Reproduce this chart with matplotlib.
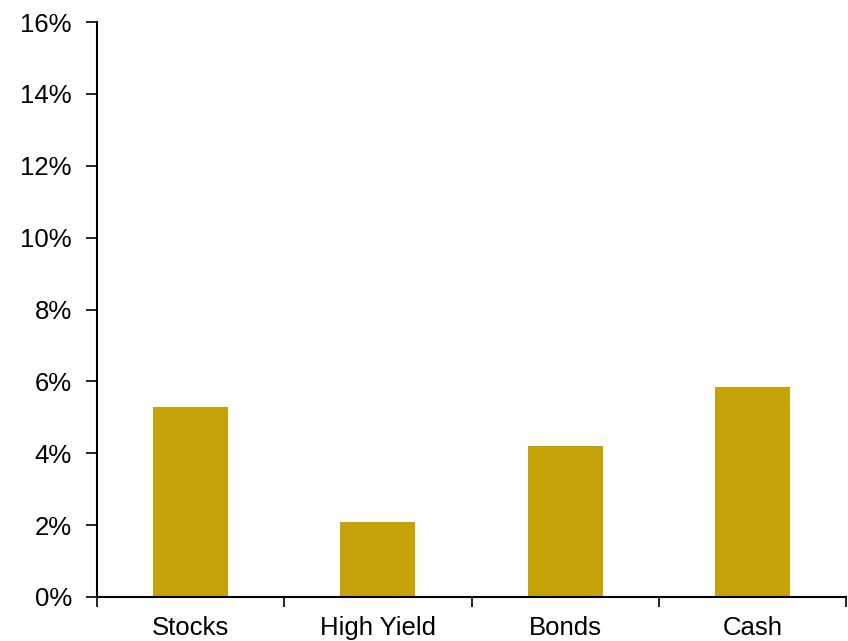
import numpy as np
import matplotlib
matplotlib.use("Agg")
import matplotlib.pyplot as plt
import matplotlib.ticker as mticker

# expected returns by asset class, in percent
categories = ["Stocks", "High Yield", "Bonds", "Cash"]
returns = [5.3, 2.1, 4.2, 5.85]

plt.rcParams['font.family'] = ['Liberation Sans', 'DejaVu Sans']

fig = plt.figure(figsize=(8.48, 6.41), dpi=100)
ax = fig.add_axes([97 / 848, 1 - 597 / 641, (846 - 97) / 848, (597 - 22) / 641])

x = np.arange(len(categories))
ax.bar(x, returns, width=0.4, color='#C4A208', zorder=2)

ax.set_xlim(-0.5, len(categories) - 0.5)
ax.set_ylim(0, 16)
ax.yaxis.set_major_locator(mticker.MultipleLocator(2))
ax.yaxis.set_major_formatter(mticker.FuncFormatter(lambda v, p: "%d%%" % v))

# boundary ticks between categories, labels centred under each bar
ax.set_xticks(np.arange(-0.5, len(categories), 1.0))
ax.set_xticklabels([])
ax.set_xticks(x, minor=True)
ax.set_xticklabels(categories, minor=True)
ax.tick_params(axis='x', which='major', length=7, width=1.2, direction='out')
ax.tick_params(axis='x', which='minor', length=0, pad=14, labelsize=18.5)
ax.tick_params(axis='y', length=8, width=1.2, direction='out', labelsize=18.5, pad=10)

for side in ['top', 'right']:
    ax.spines[side].set_visible(False)
ax.spines['left'].set_linewidth(1.5)
ax.spines['bottom'].set_linewidth(1.5)

fig.savefig("out.png", dpi=100)
